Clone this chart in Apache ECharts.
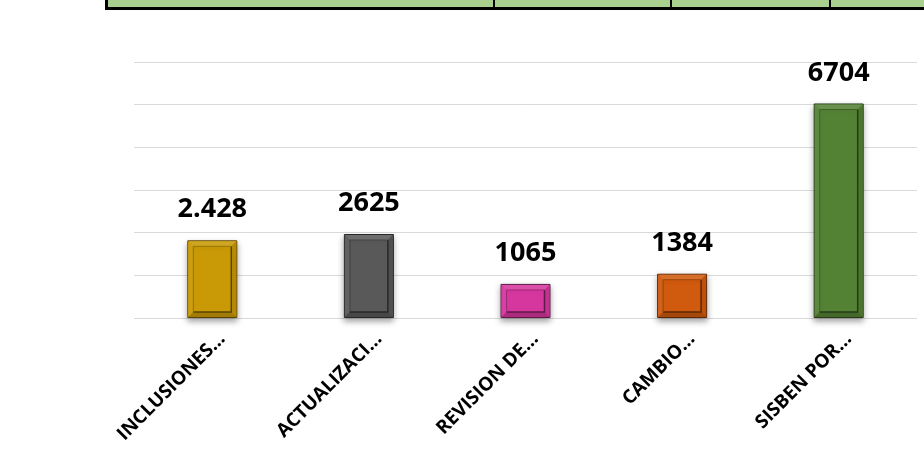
<!DOCTYPE html>
<html>
<head>
<meta charset="utf-8">
<script src="https://cdn.jsdelivr.net/npm/echarts@6/dist/echarts.min.js"></script>
<style>
  html, body { margin: 0; padding: 0; background: #fff; }
  #chart { width: 924px; height: 464px; }
</style>
</head>
<body>
<div id="chart"></div>
<script>
const categories = ['INCLUSIONES…', 'ACTUALIZACI…', 'REVISION DE…', 'CAMBIO…', 'SISBEN POR…'];
const values = [2428, 2625, 1065, 1384, 6704];
const valueLabels = ['2.428', '2625', '1065', '1384', '6704'];
const barColors = ['#C99A06', '#595959', '#D6379F', '#D05A0E', '#548235'];

// mix a hex colour toward black (amt < 0) or white (amt > 0)
const shade = (hex, amt) => {
  const n = parseInt(hex.slice(1), 16);
  let r = (n >> 16) & 255, g = (n >> 8) & 255, b = n & 255;
  const t = amt < 0 ? 0 : 255;
  const p = Math.abs(amt);
  r = Math.round(r + (t - r) * p);
  g = Math.round(g + (t - g) * p);
  b = Math.round(b + (t - b) * p);
  return 'rgb(' + r + ',' + g + ',' + b + ')';
};

const chart = echarts.init(document.getElementById('chart'));

const option = {
  animation: false,
  backgroundColor: '#fff',
  grid: {
    left: 134,
    right: 7,
    top: 62,
    bottom: 146,
  },
  xAxis: {
    type: 'category',
    data: categories,
    axisLine: { show: false },
    axisTick: { show: false },
    axisLabel: {
      interval: 0,
      rotate: 45,
      margin: 8,
      verticalAlign: 'top',
      lineHeight: 28,
      color: '#000',
      fontSize: 19,
      fontWeight: 'bold',
      fontFamily: 'Open Sans',
    },
  },
  yAxis: {
    type: 'value',
    min: 0,
    max: 8000,
    interval: 8000 / 6,
    axisLabel: { show: false },
    axisLine: { show: false },
    axisTick: { show: false },
    splitLine: {
      lineStyle: { color: '#D9D9D9', width: 1 },
    },
  },
  graphic: [
    // piece of the table above the chart
    { type: 'rect', shape: { x: 107, y: 0, width: 817, height: 8 }, style: { fill: '#A9D08E' } },
    { type: 'rect', shape: { x: 105, y: 7, width: 819, height: 3 }, style: { fill: '#000' } },
    { type: 'rect', shape: { x: 105, y: 0, width: 3, height: 10 }, style: { fill: '#000' } },
    { type: 'rect', shape: { x: 493, y: 0, width: 2, height: 8 }, style: { fill: '#000' } },
    { type: 'rect', shape: { x: 670, y: 0, width: 2, height: 8 }, style: { fill: '#000' } },
    { type: 'rect', shape: { x: 829, y: 0, width: 2, height: 8 }, style: { fill: '#000' } },
  ],
  series: [
    {
      type: 'bar',
      barWidth: 50,
      data: values.map((v, i) => ({
        value: v,
        itemStyle: {
          color: barColors[i],
          borderColor: shade(barColors[i], -0.55),
          borderWidth: 1,
          shadowColor: 'rgba(0,0,0,0.35)',
          shadowBlur: 6,
          shadowOffsetY: 3,
        },
      })),
      label: {
        show: true,
        position: 'top',
        distance: 17,
        color: '#000',
        fontSize: 27,
        fontWeight: 'bold',
        fontFamily: 'Open Sans',
        formatter: (p) => valueLabels[p.dataIndex],
      },
      z: 2,
    },
    {
      // bevel on top of each bar
      type: 'custom',
      silent: true,
      z: 3,
      data: values.map((v, i) => [i, v]),
      renderItem: (params, api) => {
        const top = api.coord([api.value(0), api.value(1)]);
        const bot = api.coord([api.value(0), 0]);
        const w = 50;
        const x0 = top[0] - w / 2 + 1;
        const x1 = top[0] + w / 2 - 1;
        const y0 = top[1] + 1;
        const y1 = bot[1] - 1;
        const b = Math.min(5, (y1 - y0) / 3);
        const c = barColors[params.dataIndex];
        return {
          type: 'group',
          children: [
            { type: 'polygon', shape: { points: [[x0, y0], [x1, y0], [x1 - b, y0 + b], [x0 + b, y0 + b]] }, style: { fill: shade(c, 0.12) } },
            { type: 'polygon', shape: { points: [[x0, y0], [x0 + b, y0 + b], [x0 + b, y1 - b], [x0, y1]] }, style: { fill: shade(c, 0.05) } },
            { type: 'polygon', shape: { points: [[x1, y0], [x1, y1], [x1 - b, y1 - b], [x1 - b, y0 + b]] }, style: { fill: shade(c, -0.1) } },
            { type: 'polygon', shape: { points: [[x0, y1], [x1, y1], [x1 - b, y1 - b], [x0 + b, y1 - b]] }, style: { fill: shade(c, -0.2) } },
            { type: 'polyline', shape: { points: [[x0 + b, y1 - b], [x1 - b, y1 - b], [x1 - b, y0 + b]] }, style: { stroke: shade(c, -0.55), lineWidth: 1.5, fill: null } },
            { type: 'polyline', shape: { points: [[x0 + b, y1 - b], [x0 + b, y0 + b], [x1 - b, y0 + b]] }, style: { stroke: shade(c, -0.25), lineWidth: 1, fill: null } },
          ],
        };
      },
    },
  ],
};

chart.setOption(option);
</script>
</body>
</html>
